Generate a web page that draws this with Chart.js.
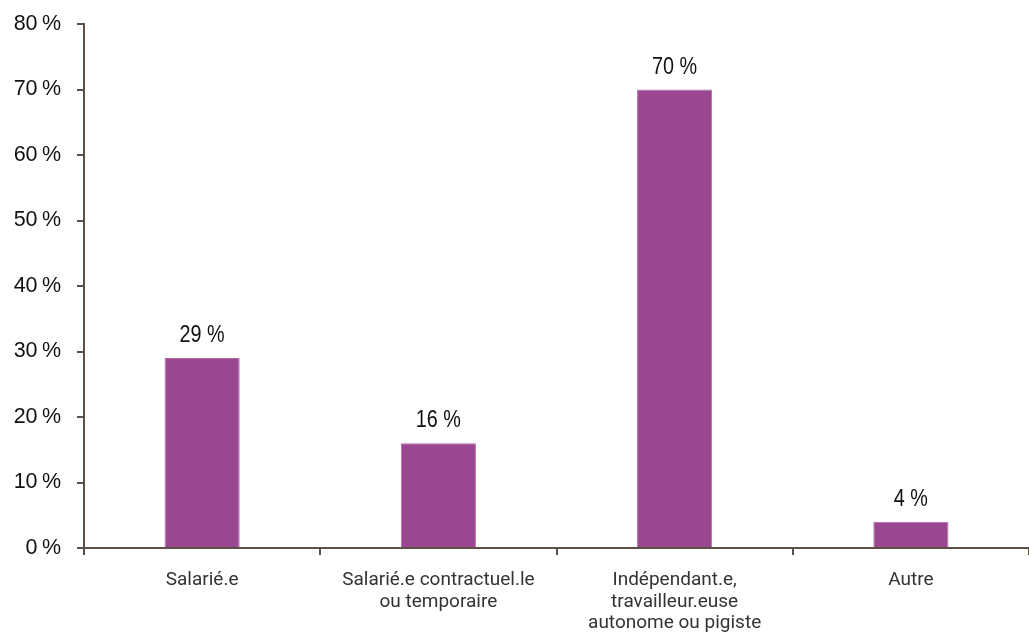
<!DOCTYPE html>
<html lang="fr">
<head>
<meta charset="utf-8">
<title>Statut professionnel</title>
<script src="https://cdn.jsdelivr.net/npm/chart.js@4/dist/chart.umd.min.js"></script>
<style>
  html, body { margin: 0; padding: 0; background: #fff; }
  #wrap { width: 1029px; height: 635px; position: relative; }
</style>
</head>
<body>
<div id="wrap"><canvas id="statutChart" width="1029" height="635"></canvas></div>
<script>
const categories = [
    ['Salarié.e'],
    ['Salarié.e contractuel.le', 'ou temporaire'],
    ['Indépendant.e,', 'travailleur.euse', 'autonome ou pigiste'],
    ['Autre']
];
const pourcentages = [29, 16, 70, 4];
const yTicks = [0, 10, 20, 30, 40, 50, 60, 70, 80];

const AXIS_COLOR = '#595048';
const BAR_COLOR = '#9a4690';

// étiquettes de valeur au-dessus des barres (police resserrée)
const etiquettesValeurs = {
    id: 'etiquettesValeurs',
    afterDatasetsDraw(chart) {
        const ctx = chart.ctx;
        const meta = chart.getDatasetMeta(0);
        meta.data.forEach((bar, i) => {
            ctx.save();
            ctx.translate(bar.x, bar.y - 16);
            ctx.scale(0.86, 1);
            ctx.font = '23px "Liberation Sans", Arial, sans-serif';
            ctx.fillStyle = '#111';
            ctx.textAlign = 'center';
            ctx.textBaseline = 'alphabetic';
            ctx.fillText(pourcentages[i] + ' %', 0, 0);
            ctx.restore();
        });
    }
};

const ctx = document.getElementById('statutChart').getContext('2d');
const chart = new Chart(ctx, {
    type: 'bar',
    data: {
        labels: categories,
        datasets: [{
            data: pourcentages,
            backgroundColor: BAR_COLOR,
            borderColor: '#b36aa9',
            borderWidth: { left: 1, right: 1, top: 1, bottom: 0 },
            barPercentage: 0.318,
            categoryPercentage: 1
        }]
    },
    options: {
        responsive: false,
        animation: false,
        layout: { padding: { top: 24, right: 0, left: 0, bottom: 0 } },
        plugins: {
            legend: { display: false },
            tooltip: { enabled: false }
        },
        scales: {
            x: {
                grid: {
                    display: true,
                    drawOnChartArea: false,
                    drawTicks: true,
                    tickLength: 7,
                    color: AXIS_COLOR,
                    lineWidth: 2
                },
                border: { display: true, color: AXIS_COLOR, width: 2 },
                ticks: {
                    color: '#333',
                    font: { family: 'Roboto', size: 19, lineHeight: 1.12 },
                    padding: 15,
                    maxRotation: 0
                },
                afterFit(scale) { scale.height = 87; }
            },
            y: {
                min: 0,
                max: 80,
                afterBuildTicks(scale) {
                    scale.ticks = yTicks.map(v => ({ value: v }));
                },
                grid: {
                    display: true,
                    drawOnChartArea: false,
                    drawTicks: true,
                    tickLength: 7,
                    color: AXIS_COLOR,
                    lineWidth: 2
                },
                border: { display: true, color: AXIS_COLOR, width: 2 },
                ticks: {
                    color: '#111',
                    font: { family: 'Liberation Sans', size: 21.5 },
                    padding: 16,
                    callback: v => v + '\u2009%'
                },
                afterFit(scale) {
                    // largeur fixe, sans marge verticale pour les étiquettes
                    scale.width = 84;
                    scale.paddingTop = 0;
                    scale.paddingBottom = 0;
                }
            }
        }
    },
    plugins: [etiquettesValeurs]
});
</script>
</body>
</html>
